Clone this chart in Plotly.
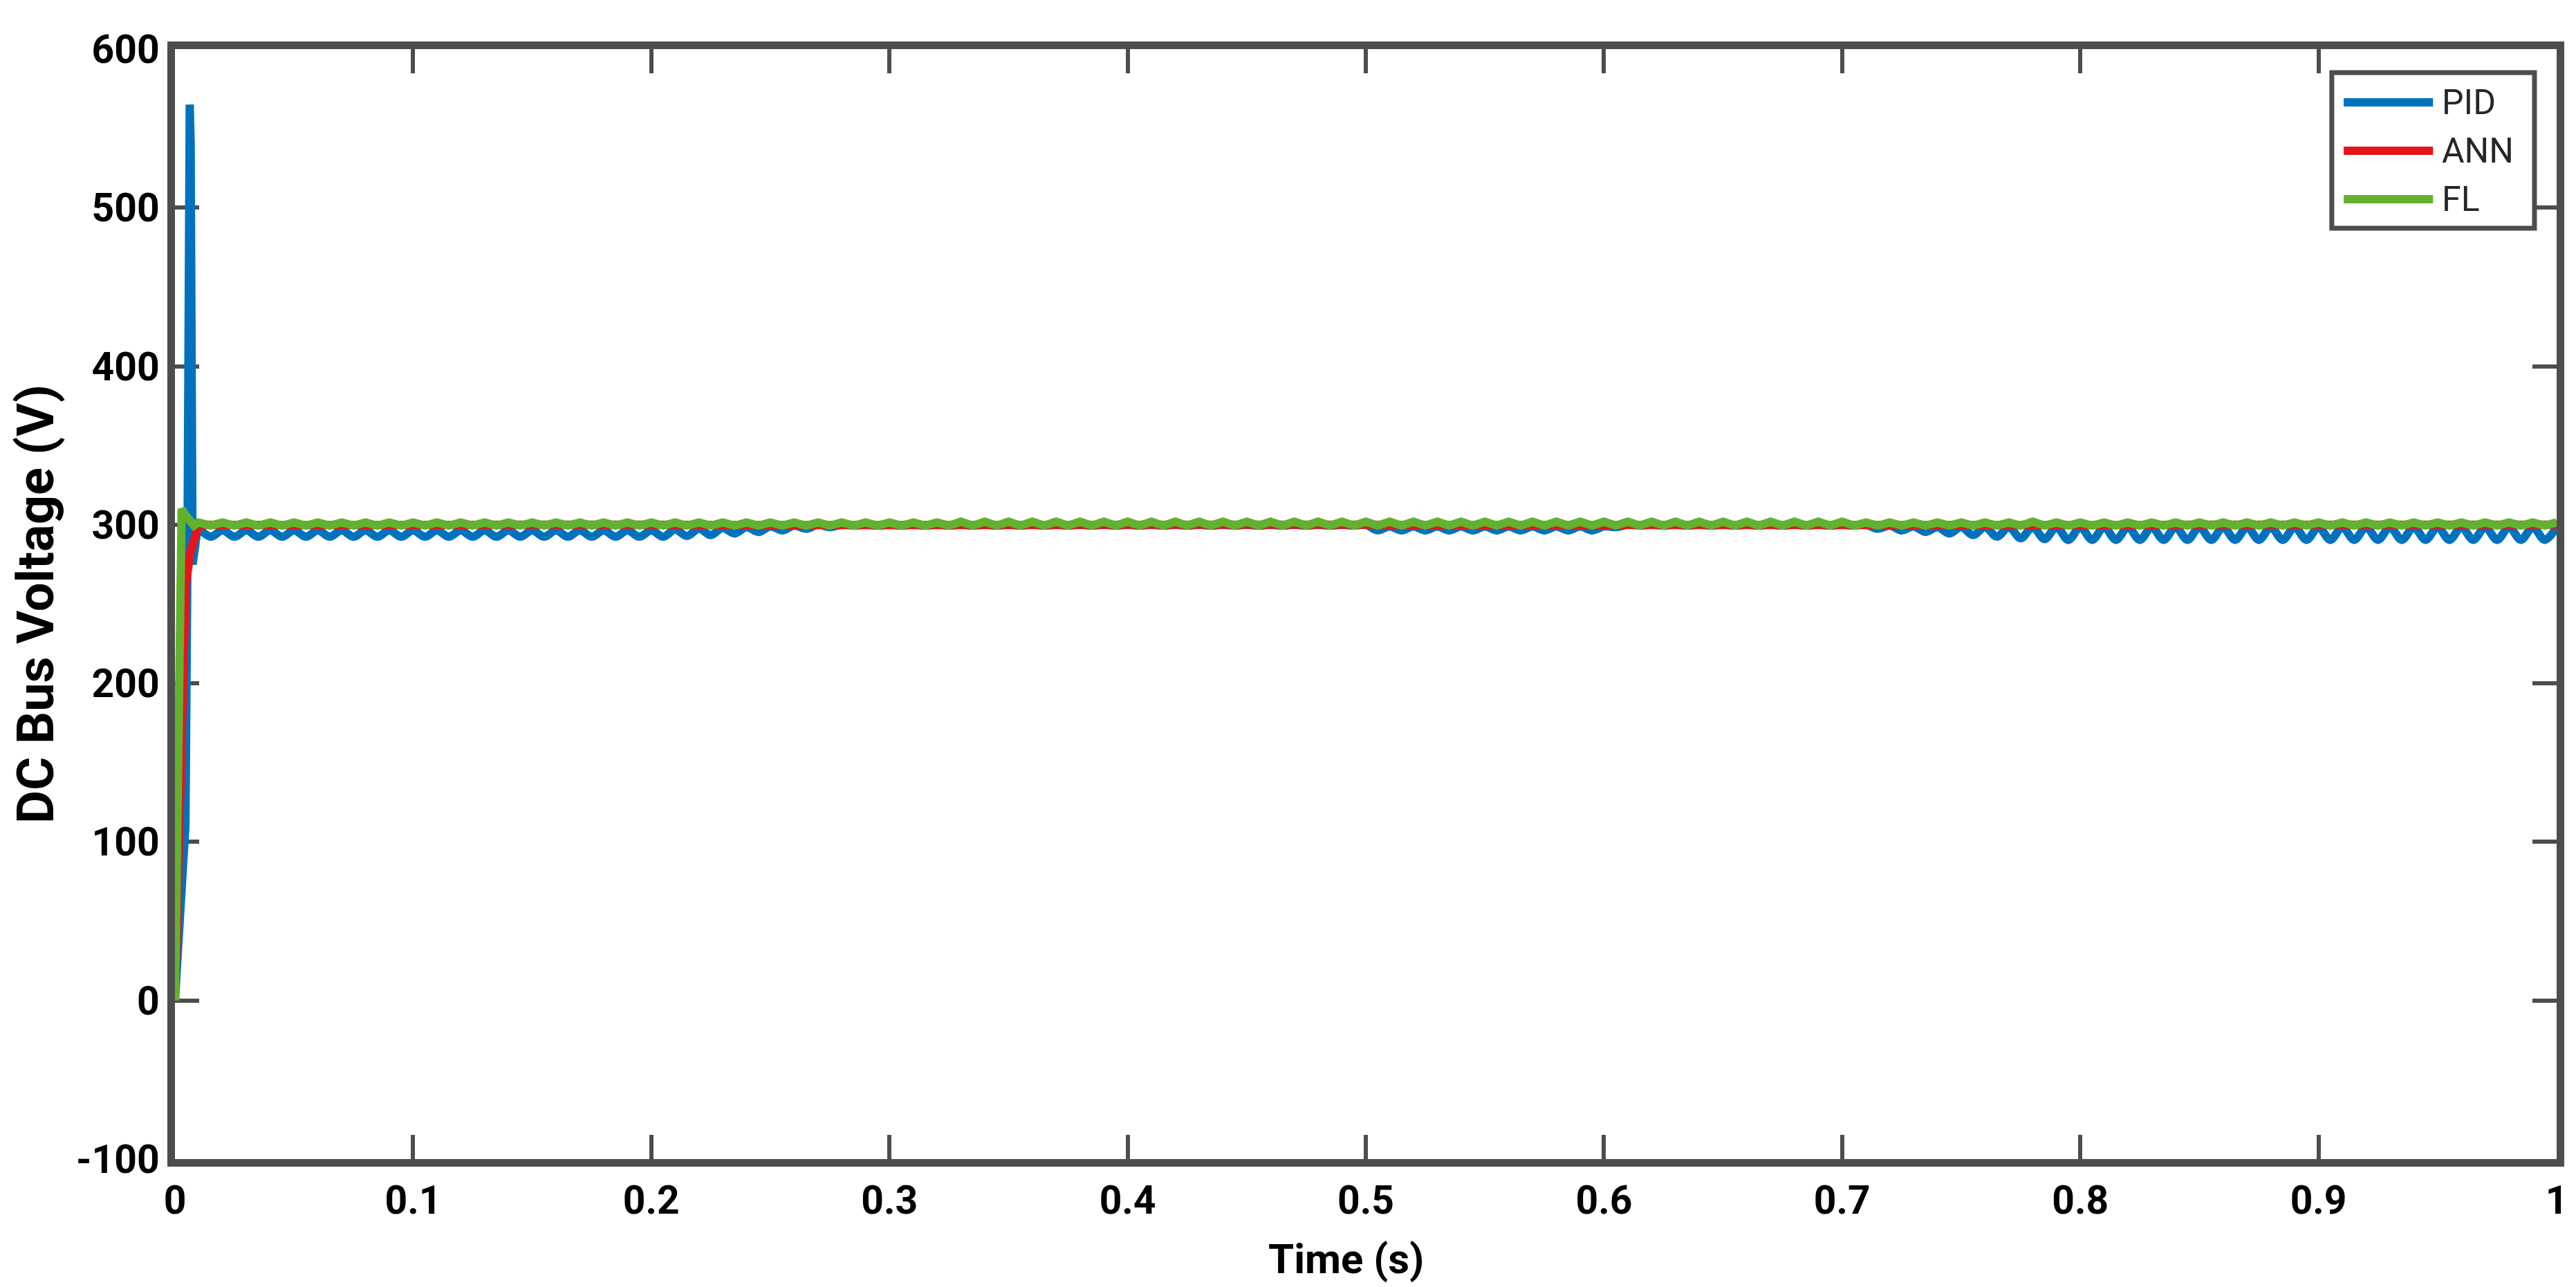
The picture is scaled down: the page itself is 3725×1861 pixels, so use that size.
import plotly.graph_objects as go

# ---------------- data ----------------
# Start-up transient samples, time in s, voltage in V
PID_T0 = [0.0, 0.0044, 0.0052, 0.0058, 0.0062, 0.0066, 0.0074, 0.0088]
PID_V0 = [0.0, 110.0, 270.0, 470.0, 565.0, 540.0, 275.0, 290.0]

ANN_T0 = [0.0, 0.003, 0.0045, 0.0065, 0.0085]
ANN_V0 = [0.0, 215.0, 262.0, 283.0, 296.0]

FL_T0 = [0.0, 0.0028, 0.0045, 0.0065, 0.008]
FL_V0 = [0.0, 310.0, 306.0, 301.0, 299.5]

# Steady-state 100 Hz ripple: one peak every 0.01 s, one dip half a period later
PEAK_T = [round(0.01 * k, 3) for k in range(1, 101)]          # 0.010 ... 1.000
DIP_T = [round(0.01 * k + 0.005, 3) for k in range(1, 100)]    # 0.015 ... 0.995

PID_PEAKS = [
    296.5, 296.5, 296.5, 296.5, 296.5, 296.5, 296.5, 296.5, 296.5, 296.5,
    296.5, 296.5, 296.5, 296.5, 296.5, 296.5, 296.5, 296.5, 296.5, 296.5,
    297.0, 297.5, 298.0, 298.5, 299.0, 299.5, 300.0, 300.0, 300.0, 300.0,
    300.0, 300.0, 300.0, 300.0, 300.0, 300.0, 300.0, 300.0, 300.0, 300.0,
    300.0, 300.0, 300.0, 300.0, 300.0, 300.0, 300.0, 300.0, 300.0, 300.0,
    299.0, 299.0, 299.0, 299.0, 299.0, 299.0, 299.0, 299.0, 299.0, 299.0,
    300.0, 300.0, 300.0, 300.0, 300.0, 300.0, 300.0, 300.0, 300.0, 300.0,
    300.0, 299.5, 299.0, 298.5, 298.5, 298.5, 298.5, 298.5, 298.5, 298.5,
    298.5, 298.5, 298.5, 298.5, 298.5, 298.5, 298.5, 298.5, 298.5, 298.5,
    298.5, 298.5, 298.5, 298.5, 298.5, 298.5, 298.5, 298.5, 298.5, 298.5,
]
PID_DIPS = [
    292.5, 292.5, 292.5, 292.5, 292.5, 292.5, 292.5, 292.5, 292.5, 292.5,
    292.5, 292.5, 292.5, 292.5, 292.5, 292.5, 292.5, 292.5, 292.5, 292.5,
    293.0, 293.5, 294.5, 295.5, 296.5, 297.5, 298.5, 299.5, 299.5, 299.5,
    299.5, 299.5, 299.5, 299.5, 299.5, 299.5, 299.5, 299.5, 299.5, 299.5,
    299.5, 299.5, 299.5, 299.5, 299.5, 299.5, 299.5, 299.5, 299.5, 296.5,
    296.5, 296.5, 296.5, 296.5, 296.5, 296.5, 296.5, 296.5, 296.5, 298.5,
    299.5, 299.5, 299.5, 299.5, 299.5, 299.5, 299.5, 299.5, 299.5, 299.5,
    297.5, 296.5, 295.5, 294.5, 293.5, 292.5, 291.5, 291.0, 290.5, 290.5,
    290.5, 290.5, 290.5, 290.5, 290.5, 290.5, 290.5, 290.5, 290.5, 290.5,
    290.5, 290.5, 290.5, 290.5, 290.5, 290.5, 290.5, 290.5, 290.5,
]

ANN_SS_T = [0.01, 0.05, 0.10, 0.15, 0.20, 0.25, 0.30, 0.35, 0.40, 0.45, 0.50,
            0.55, 0.60, 0.65, 0.70, 0.75, 0.80, 0.85, 0.90, 0.95, 1.00]
ANN_SS_V = [300.0, 299.8, 300.2, 299.9, 300.1, 299.8, 300.2, 300.0, 299.9, 300.1, 300.0,
            299.8, 300.2, 299.9, 300.1, 300.0, 299.8, 300.1, 299.9, 300.0, 300.0]

FL_PEAKS = [
    301.5, 301.5, 301.5, 301.5, 301.5, 301.5, 301.5, 301.5, 301.5, 301.5,
    301.5, 301.5, 301.5, 301.5, 301.5, 301.5, 301.5, 301.5, 301.5, 301.5,
    301.5, 301.5, 301.5, 301.5, 301.5, 301.5, 301.5, 301.5, 301.5, 301.5,
    301.5, 301.5, 302.0, 302.0, 302.0, 302.0, 302.0, 302.0, 302.0, 302.0,
    302.0, 302.0, 302.0, 302.0, 302.0, 302.0, 302.0, 302.0, 302.0, 302.0,
    302.0, 302.0, 302.0, 302.0, 302.0, 302.0, 302.0, 302.0, 302.0, 302.0,
    302.0, 302.0, 302.0, 302.0, 302.0, 302.0, 302.0, 302.0, 302.0, 302.0,
    301.5, 301.5, 301.5, 301.5, 301.5, 301.5, 301.5, 302.0, 301.5, 301.5,
    301.5, 301.5, 301.5, 301.5, 301.5, 301.5, 301.5, 301.5, 301.5, 301.5,
    301.5, 301.5, 301.5, 301.5, 301.5, 301.5, 301.5, 301.5, 301.5, 301.5,
]
FL_DIPS = [
    299.5, 299.5, 299.5, 299.5, 299.5, 299.5, 299.5, 299.5, 299.5, 299.5,
    299.5, 299.5, 299.5, 299.5, 299.5, 299.5, 299.5, 299.5, 299.5, 299.5,
    299.5, 299.5, 299.5, 299.5, 299.5, 299.5, 299.5, 299.5, 299.5, 299.5,
    299.5, 299.5, 299.5, 299.5, 299.5, 299.5, 299.5, 299.5, 299.5, 299.5,
    299.5, 299.5, 299.5, 299.5, 299.5, 299.5, 299.5, 299.5, 299.5, 299.5,
    299.5, 299.5, 299.5, 299.5, 299.5, 299.5, 299.5, 299.5, 299.5, 299.5,
    299.5, 299.5, 299.5, 299.5, 299.5, 299.5, 299.5, 299.5, 299.5, 299.5,
    299.5, 299.5, 299.5, 299.5, 299.5, 299.5, 299.5, 299.5, 299.5, 299.5,
    299.5, 299.5, 299.5, 299.5, 299.5, 299.5, 299.5, 299.5, 299.5, 299.5,
    299.5, 299.5, 299.5, 299.5, 299.5, 299.5, 299.5, 299.5, 299.5,
]

SERIES_NAMES = ["PID", "ANN", "FL"]
SERIES_COLORS = ["#0072BD", "#E8141B", "#63B22F"]

X_TICKS = [0.0, 0.1, 0.2, 0.3, 0.4, 0.5, 0.6, 0.7, 0.8, 0.9, 1.0]
X_TICK_LABELS = ["0", "0.1", "0.2", "0.3", "0.4", "0.5", "0.6", "0.7", "0.8", "0.9", "1"]
Y_TICKS = [-100, 0, 100, 200, 300, 400, 500, 600]
Y_TICK_LABELS = ["-100", "0", "100", "200", "300", "400", "500", "600"]

X_TITLE = "Time (s)"
Y_TITLE = "DC Bus Voltage (V)"


def interleave(peaks, dips):
    """Interleave peak/dip samples into one (t, v) table."""
    t, v = [], []
    for i, (tp, vp) in enumerate(zip(PEAK_T, peaks)):
        t.append(tp)
        v.append(vp)
        if i < len(dips):
            t.append(DIP_T[i])
            v.append(dips[i])
    return t, v


pid_ss_t, pid_ss_v = interleave(PID_PEAKS, PID_DIPS)
fl_ss_t, fl_ss_v = interleave(FL_PEAKS, FL_DIPS)

FONT = "Roboto, Liberation Sans, Arial, sans-serif"
AXIS_COLOR = "#4D4D4D"
LW = 12

fig = go.Figure()
# PID: linear start-up, smoothed ripple (rounded lobes as in the reference)
fig.add_trace(go.Scatter(x=PID_T0, y=PID_V0, mode="lines", name="PID", legendgroup="PID",
                         line=dict(color=SERIES_COLORS[0], width=LW), showlegend=False))
fig.add_trace(go.Scatter(x=PID_T0[-1:] + pid_ss_t, y=PID_V0[-1:] + pid_ss_v, mode="lines",
                         name="PID", legendgroup="PID",
                         line=dict(color=SERIES_COLORS[0], width=LW, shape="spline", smoothing=1.0),
                         showlegend=False))
# ANN
fig.add_trace(go.Scatter(x=ANN_T0 + ANN_SS_T, y=ANN_V0 + ANN_SS_V, mode="lines", name="ANN",
                         line=dict(color=SERIES_COLORS[1], width=LW), showlegend=False))
# FL
fig.add_trace(go.Scatter(x=FL_T0 + fl_ss_t, y=FL_V0 + fl_ss_v, mode="lines", name="FL",
                         line=dict(color=SERIES_COLORS[2], width=LW), showlegend=False))

axis_common = dict(
    showgrid=False, zeroline=False,
    showline=True, linecolor=AXIS_COLOR, linewidth=11, mirror="ticks",
    ticks="inside", ticklen=35, tickwidth=6, tickcolor=AXIS_COLOR,
    tickfont=dict(family=FONT, size=57, color="black", weight="bold"),
    layer="below traces",
)

fig.update_xaxes(range=[0, 1], tickmode="array", tickvals=X_TICKS, ticktext=X_TICK_LABELS,
                 **axis_common)
fig.update_yaxes(range=[-100, 600], tickmode="array", tickvals=Y_TICKS, ticktext=Y_TICK_LABELS,
                 title=dict(text=Y_TITLE, font=dict(family=FONT, size=74, color="black", weight="bold"),
                            standoff=20),
                 **axis_common)

# legend box (drawn in paper coordinates)
shapes = [dict(type="rect", xref="paper", yref="paper", x0=0.9056, x1=0.9907, y0=0.8386, y1=0.9788,
               line=dict(color=AXIS_COLOR, width=7), fillcolor="white", layer="above")]
annotations = [dict(xref="paper", yref="paper", x=0.4916, y=-0.0903, text=X_TITLE, showarrow=False,
                    xanchor="center", yanchor="middle",
                    font=dict(family=FONT, size=60, color="black", weight="bold"))]
legend_rows = [0.9520, 0.9084, 0.8648]
for name, color, yr in zip(SERIES_NAMES, SERIES_COLORS, legend_rows):
    shapes.append(dict(type="line", xref="paper", yref="paper", x0=0.9106, x1=0.9481, y0=yr, y1=yr,
                       line=dict(color=color, width=12), layer="above"))
    annotations.append(dict(xref="paper", yref="paper", x=0.9512, y=yr, text=name, showarrow=False,
                            xanchor="left", yanchor="middle",
                            font=dict(family=FONT, size=50, color="#262626")))

fig.update_layout(
    width=3725, height=1861,
    margin=dict(l=245, r=36, t=63, b=193, autoexpand=False),
    plot_bgcolor="white", paper_bgcolor="white",
    showlegend=False,
    shapes=shapes, annotations=annotations,
)

fig.write_html("out.html")
